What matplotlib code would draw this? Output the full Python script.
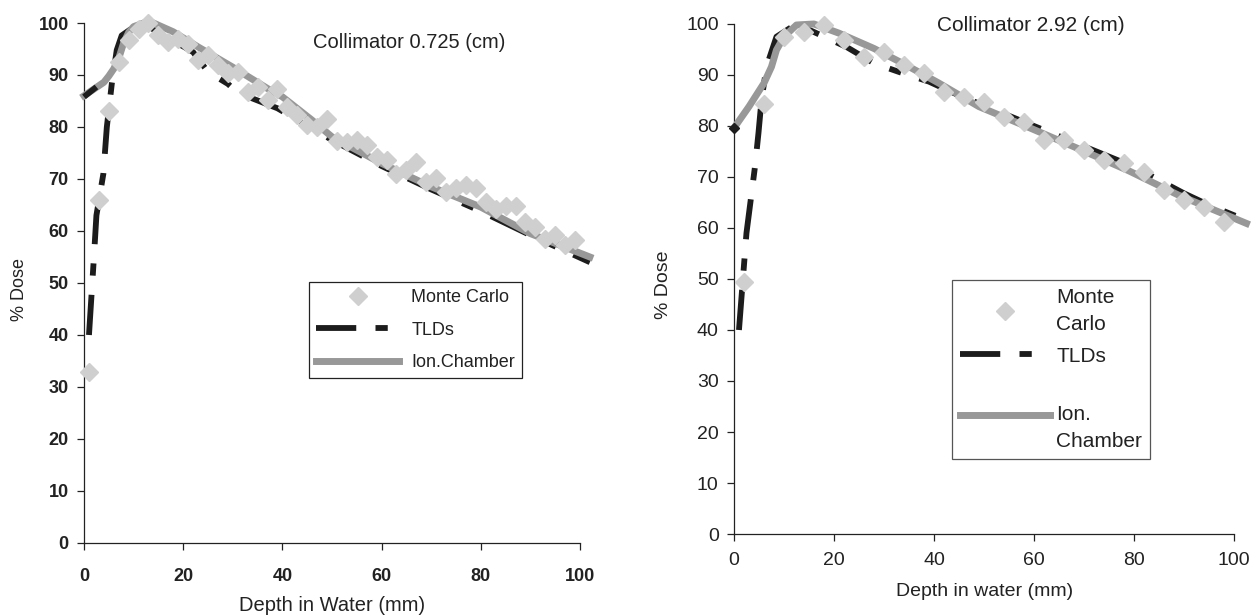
import matplotlib
matplotlib.use("Agg")
import matplotlib.pyplot as plt

plt.rcParams['font.family'] = ['Liberation Sans', 'DejaVu Sans']
plt.rcParams['text.color'] = '#222222'
plt.rcParams['axes.labelcolor'] = '#222222'
plt.rcParams['xtick.color'] = '#222222'
plt.rcParams['ytick.color'] = '#222222'

# ---- collimator 0.725 cm ----
mc_depth_a = [1, 3, 5, 7, 9, 11, 13, 15, 17, 19, 21, 23, 25, 27, 29, 31, 33, 35, 37, 39,
              41, 43, 45, 47, 49, 51, 53, 55, 57, 59, 61, 63, 65, 67, 69, 71, 73, 75, 77, 79,
              81, 83, 85, 87, 89, 91, 93, 95, 97, 99]
mc_dose_a = [32.8, 66, 83, 92.5, 96.8, 98.9, 100, 97.6, 96.3, 97, 96, 92.8, 93.8, 91.9, 90.3, 90.6, 86.7, 87.7, 85.1, 87.4,
             83.8, 82.3, 80.3, 80, 81.6, 77.4, 77.1, 77.5, 76.5, 74.2, 73.6, 71, 71.7, 73.3, 69.4, 70.1, 67.5, 68.2, 68.8, 68.2,
             65.6, 64.3, 64.9, 64.9, 61.7, 60.8, 58.5, 59.2, 57.3, 58.2]

tld_depth_a = [1, 2, 2.5, 3.9, 4.6, 5.6, 6.6, 7.6, 10, 12, 16, 20, 22, 25, 29, 31, 35, 39, 50, 60, 70, 80, 90, 102]
tld_dose_a = [40, 55, 63, 71, 80, 88.3, 94.8, 97.6, 99.2, 100, 97.5, 95.5, 94.4, 90.6, 88.3, 86.6, 85.1, 83.6, 77.5, 72.5, 68, 63.8, 59.2, 54]
tld_surf_depth_a = [0, 2.5]
tld_surf_dose_a = [85.8, 87.7]

ic_depth_a = [0, 2, 4, 5, 6, 7, 8, 9, 10, 12, 14, 18, 23, 30, 37, 40, 46, 50, 60, 70, 80, 90, 102]
ic_dose_a = [86, 87.3, 88.6, 89.8, 91.2, 93.2, 96.2, 98.2, 99.3, 100, 100, 98.3, 95.4, 91.5, 87.4, 85.8, 81.3, 78.1, 73, 68.5, 64.6, 59.5, 55]

# ---- collimator 2.92 cm ----
mc_depth_b = [2, 6, 10, 14, 18, 22, 26, 30, 34, 38, 42, 46, 50, 54, 58, 62, 66, 70, 74, 78, 82, 86, 90, 94, 98]
mc_dose_b = [49.4, 84.4, 97.5, 98.5, 99.8, 96.9, 93.6, 94.6, 92, 90.3, 86.7, 85.7, 84.8, 81.8, 80.8, 77.3, 77.3, 75.3, 73.3, 72.7,
             71, 67.5, 65.5, 64.2, 61.2]

tld_depth_b = [1, 2.5, 4.2, 4.9, 5.5, 6.5, 8.5, 12.5, 16.5, 22.5, 28, 33, 39, 45, 50, 60, 70, 80, 90, 95, 102.5]
tld_dose_b = [40, 59, 72, 78.6, 85, 91.6, 97.5, 100, 98.2, 95.5, 92.3, 90.6, 88.7, 86, 84, 80, 76, 72, 66.8, 64.5, 61.5]
tld_surf_depth_b = [0]
tld_surf_dose_b = [79.6]

ic_depth_b = [0, 3, 6, 7.5, 8.5, 10, 12.5, 16, 21, 28, 34.5, 41, 49, 59, 69, 79, 89, 102.5]
ic_dose_b = [79.6, 83.8, 88.4, 91.6, 94.9, 97.5, 99.8, 100, 98.2, 95.2, 91.9, 88.4, 83.8, 79.7, 75.5, 71.2, 66.4, 60.9]

MC_COL = '#cfcfcf'
TLD_COL = '#1c1c1c'
IC_COL = '#989898'
TLD_DASH = (6.9, 3.3, 2.1, 3.3)

fig = plt.figure(figsize=(12.54, 6.15), dpi=100)
ax1 = fig.add_axes([0.0670, 0.1171, 0.3955, 0.8455])
ax2 = fig.add_axes([0.5853, 0.1317, 0.3987, 0.8293])


def draw(ax, mc_x, mc_y, tld_x, tld_y, ic_x, ic_y):
    tld, = ax.plot(tld_x, tld_y, color=TLD_COL, lw=4.2, dashes=TLD_DASH,
                   solid_capstyle='butt', zorder=2, clip_on=False, label='TLDs')
    ic, = ax.plot(ic_x, ic_y, color=IC_COL, lw=5, zorder=3, clip_on=False,
                  label='Ion.Chamber')
    mc, = ax.plot(mc_x, mc_y, ls='none', marker='D', ms=8.8, color=MC_COL,
                  mec=MC_COL, zorder=5, clip_on=False, label='Monte Carlo')
    ax.set_xlim(0, 100)
    ax.set_ylim(0, 100)
    ax.set_xticks(range(0, 101, 20))
    ax.set_yticks(range(0, 101, 10))
    for s in ['top', 'right']:
        ax.spines[s].set_visible(False)
    for s in ['left', 'bottom']:
        ax.spines[s].set_linewidth(0.9)
        ax.spines[s].set_color('#222222')
    return mc, tld, ic


# left panel
mc, tld, ic = draw(ax1, mc_depth_a, mc_dose_a, tld_depth_a, tld_dose_a, ic_depth_a, ic_dose_a)
ax1.plot(tld_surf_depth_a, tld_surf_dose_a, color=TLD_COL, lw=4.2,
         solid_capstyle='butt', zorder=4, clip_on=False)
ax1.tick_params(axis='both', direction='out', length=5, width=0.9, labelsize=13)
ax1.tick_params(axis='x', pad=13)
ax1.tick_params(axis='y', pad=6)
plt.setp(ax1.get_xticklabels() + ax1.get_yticklabels(), fontweight='bold')
ax1.set_xlabel('Depth in Water (mm)', fontsize=14.5)
ax1.set_ylabel('% Dose', fontsize=13)
ax1.xaxis.set_label_coords(0.5, -0.102)
ax1.yaxis.set_label_coords(-0.113, 0.487)
ax1.text(0.462, 0.962, 'Collimator 0.725 (cm)', transform=ax1.transAxes,
         fontsize=14.5, ha='left', va='center')
leg1 = ax1.legend([mc, tld, ic], ['Monte Carlo', 'TLDs', 'Ion.Chamber'],
                  loc='upper left', bbox_to_anchor=(0.454, 0.502), borderaxespad=0,
                  fontsize=13, numpoints=1, handlelength=4.6, handletextpad=0.65,
                  labelspacing=0.85, borderpad=0.4, fancybox=False, framealpha=1)
leg1.get_frame().set_edgecolor('#222222')
leg1.get_frame().set_linewidth(0.9)

# right panel
mc, tld, ic = draw(ax2, mc_depth_b, mc_dose_b, tld_depth_b, tld_dose_b, ic_depth_b, ic_dose_b)
ax2.plot(tld_surf_depth_b, tld_surf_dose_b, ls='none', marker='D', ms=5,
         color=TLD_COL, zorder=4, clip_on=False)
ax2.tick_params(axis='both', direction='out', length=5, width=0.9, labelsize=14)
ax2.tick_params(axis='x', pad=8)
ax2.tick_params(axis='y', pad=6)
ax2.set_xlabel('Depth in water (mm)', fontsize=14)
ax2.set_ylabel('% Dose', fontsize=14)
ax2.xaxis.set_label_coords(0.502, -0.096)
ax2.yaxis.set_label_coords(-0.124, 0.488)
ax2.text(0.406, 0.998, 'Collimator 2.92 (cm)', transform=ax2.transAxes,
         fontsize=15, ha='left', va='center')
leg2 = ax2.legend([mc, tld, ic], ['Monte\nCarlo', 'TLDs', '\nIon.\nChamber'],
                  loc='upper left', bbox_to_anchor=(0.436, 0.498), borderaxespad=0,
                  fontsize=15, numpoints=1, handlelength=4.3, handletextpad=0.3,
                  labelspacing=0.6, borderpad=0.4, fancybox=False, framealpha=1)
for t in leg2.get_texts():
    t.set_linespacing(1.52)
leg2.get_frame().set_edgecolor('#555555')
leg2.get_frame().set_linewidth(0.9)

fig.savefig('out.png', dpi=100)
